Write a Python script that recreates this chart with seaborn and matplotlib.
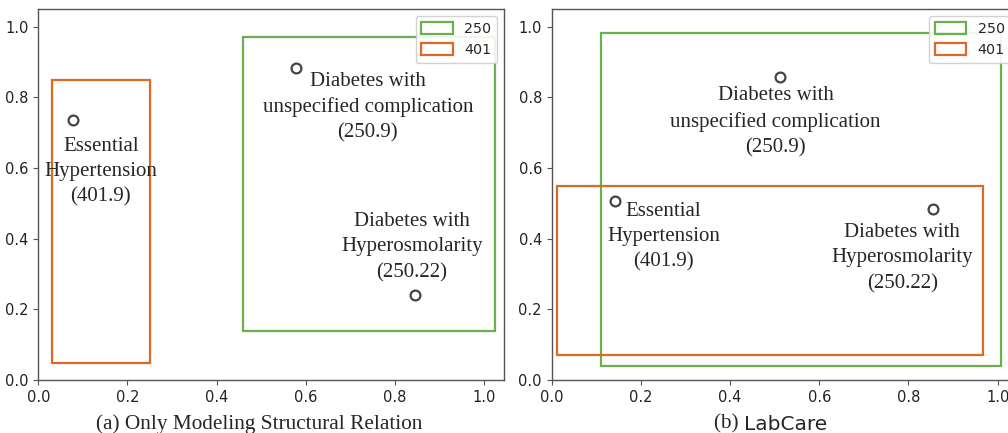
import matplotlib
matplotlib.use("Agg")
from matplotlib import pyplot as plt
from matplotlib.patches import Rectangle
import pandas as pd
import seaborn as sns

# ICD codes shown in both panels
labels = ["Essential\nHypertension\n(401.9)",
          "Diabetes with\nunspecified complication\n(250.9)",
          "Diabetes with\nHyperosmolarity\n(250.22)"]

# (a) Only Modeling Structural Relation
a_x = [0.078, 0.578, 0.844]
a_y = [0.735, 0.884, 0.241]
a_text_x = [0.140, 0.739, 0.838]
a_text_y = [0.590, 0.772, 0.376]
a_box_250 = [0.458, 0.139, 1.024, 0.970]   # x0, y0, x1, y1
a_box_401 = [0.031, 0.049, 0.250, 0.849]

# (b) LabCare
b_x = [0.142, 0.513, 0.855]
b_y = [0.507, 0.857, 0.483]
b_text_x = [0.251, 0.502, 0.786]
b_text_y = [0.406, 0.730, 0.345]
b_box_250 = [0.111, 0.040, 1.007, 0.983]
b_box_401 = [0.011, 0.072, 0.968, 0.550]

groups = ["250", "401"]
colors = {"250": "#6ab04c", "401": "#dd6a22"}

sns.set_style("ticks")
plt.rcParams["font.family"] = ["DejaVu Sans"]
plt.rcParams["axes.edgecolor"] = "#555555"
plt.rcParams["xtick.color"] = "#555555"
plt.rcParams["ytick.color"] = "#555555"
plt.rcParams["xtick.labelcolor"] = "#222222"
plt.rcParams["ytick.labelcolor"] = "#222222"

fig = plt.figure(figsize=(10.08, 4.33), dpi=100)
ax_a = fig.add_axes([38.3 / 1008, 53 / 433, 466 / 1008, 371 / 433])
ax_b = fig.add_axes([551.7 / 1008, 53 / 433, 466 / 1008, 371 / 433])


def draw_panel(ax, xs, ys, tx, ty, box_250, box_401):
    df = pd.DataFrame({"x": xs, "y": ys})
    for code, box in zip(groups, [box_250, box_401]):
        ax.add_patch(Rectangle((box[0], box[1]), box[2] - box[0], box[3] - box[1],
                               fill=False, edgecolor=colors[code], linewidth=1.6,
                               label=code))
    sns.scatterplot(data=df, x="x", y="y", ax=ax, s=50, facecolor="white",
                    edgecolor="#444444", linewidth=1.6, zorder=3)
    for lab, x, y in zip(labels, tx, ty):
        ax.text(x, y, lab, ha="center", va="center", fontsize=15,
                family="Liberation Serif", linespacing=1.45)
    ax.set_xlim(0, 1.045)
    ax.set_ylim(0, 1.05)
    ax.set_xticks([0, 0.2, 0.4, 0.6, 0.8, 1.0])
    ax.set_yticks([0, 0.2, 0.4, 0.6, 0.8, 1.0])
    ax.tick_params(labelsize=10.5, length=3.5, width=0.8)
    ax.set_xlabel("")
    ax.set_ylabel("")
    for sp in ax.spines.values():
        sp.set_visible(True)
        sp.set_linewidth(1.0)
    ax.legend(loc="upper right", fontsize=10.3, handlelength=2.2, handleheight=0.84,
              labelspacing=0.5, framealpha=0.9, borderaxespad=0.5,
              borderpad=0.4, handletextpad=0.8)


draw_panel(ax_a, a_x, a_y, a_text_x, a_text_y, a_box_250, a_box_401)
draw_panel(ax_b, b_x, b_y, b_text_x, b_text_y, b_box_250, b_box_401)

# captions
fig.text(259 / 1008, 1 - 424 / 433, "(a) Only Modeling Structural Relation",
         ha="center", va="center", fontsize=15.3, family="Liberation Serif")
fig.text(744 / 1008, 1 - 424 / 433, "(b) ", ha="right", va="center",
         fontsize=15.3, family="Liberation Serif")
fig.text(744 / 1008, 1 - 424 / 433, "LabCare", ha="left", va="center",
         fontsize=14.5, family="DejaVu Sans")

fig.savefig("out.png", dpi=100)
